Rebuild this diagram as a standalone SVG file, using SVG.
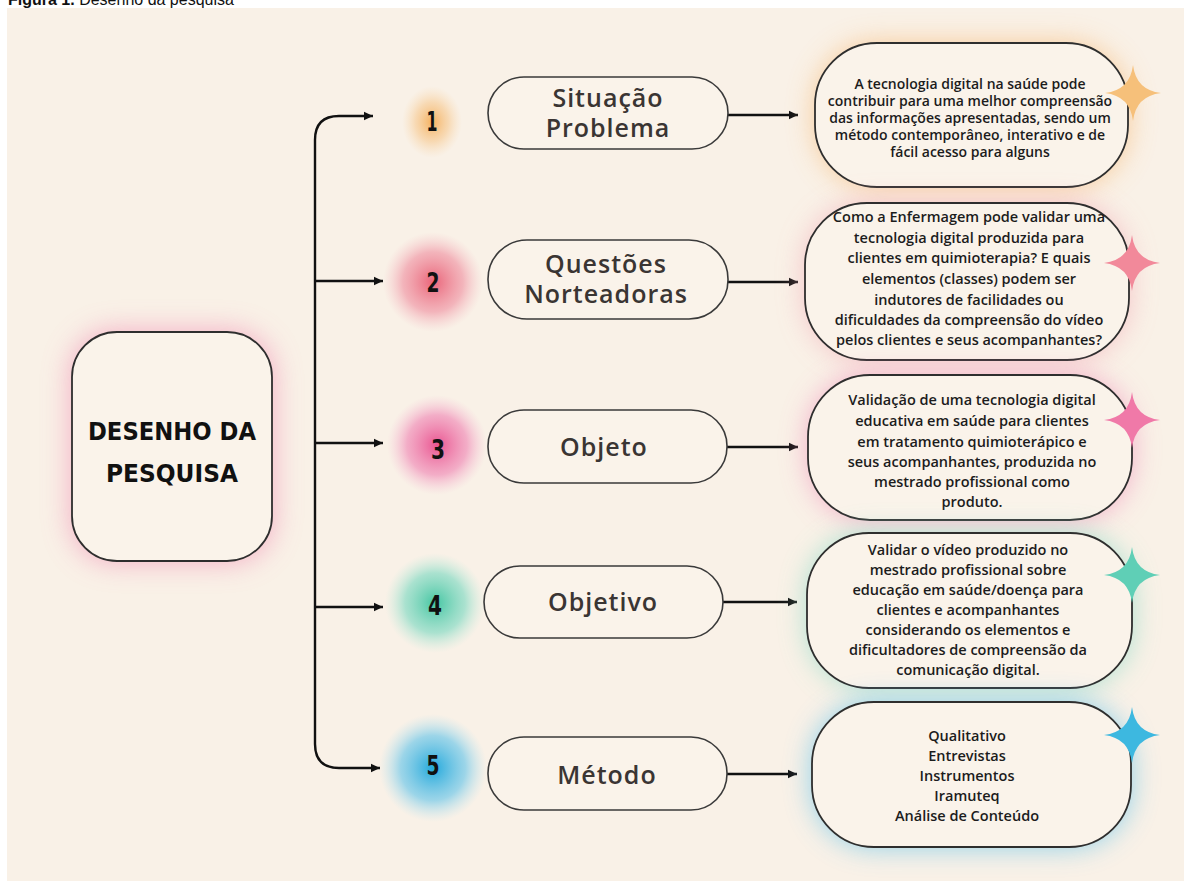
<svg xmlns="http://www.w3.org/2000/svg" xmlns:xlink="http://www.w3.org/1999/xlink" width="1184" height="881" viewBox="0 0 1184 881">
<style>
.caption{font-family:"Liberation Sans",Arial,sans-serif;font-size:16px;fill:#111}
.pill{fill:#faf3ea;stroke:#3a3a3a;stroke-width:1.6}
.box{fill:#faf3ea;stroke:#2e2e2e;stroke-width:1.8}
.ptxt{font-family:"Open Sans","DejaVu Sans",sans-serif;font-weight:600;font-size:25px;fill:#3a3533;text-anchor:middle;letter-spacing:1px}
.btxt{font-family:"Open Sans","DejaVu Sans",sans-serif;font-weight:600;font-size:14.5px;fill:#1c1c1c;text-anchor:middle}
.b1{font-size:14px}
.num{font-family:"DejaVu Sans Condensed","DejaVu Sans",sans-serif;font-weight:bold;font-size:27px;fill:#111;text-anchor:middle}
.main{font-family:"DejaVu Sans","Liberation Sans",sans-serif;font-weight:900;font-size:25px;fill:#111;text-anchor:middle}
.conn{fill:none;stroke:#111;stroke-width:2.4}
.glow{filter:url(#blur)}
</style>
<defs>
<filter id="blur" x="-50%" y="-50%" width="200%" height="200%"><feGaussianBlur stdDeviation="14"/></filter>
<marker id="arr" markerUnits="userSpaceOnUse" markerWidth="10" markerHeight="10" refX="9" refY="5" orient="auto"><path d="M0,0.8 L9,5 L0,9.2 Z" fill="#111"/></marker>
<radialGradient id="g1"><stop offset="0" stop-color="#f5aa50" stop-opacity="0.9"/><stop offset="0.55" stop-color="#f6c17f" stop-opacity="0.5"/><stop offset="1" stop-color="#f8d5a8" stop-opacity="0"/></radialGradient>
<radialGradient id="g2"><stop offset="0" stop-color="#ea6479" stop-opacity="1"/><stop offset="0.6" stop-color="#f09aa8" stop-opacity="0.7"/><stop offset="1" stop-color="#f5c1c8" stop-opacity="0"/></radialGradient>
<radialGradient id="g3"><stop offset="0" stop-color="#ea5591" stop-opacity="1"/><stop offset="0.6" stop-color="#f090b9" stop-opacity="0.7"/><stop offset="1" stop-color="#f5c0d6" stop-opacity="0"/></radialGradient>
<radialGradient id="g4"><stop offset="0" stop-color="#45c6a3" stop-opacity="1"/><stop offset="0.6" stop-color="#88dbc5" stop-opacity="0.7"/><stop offset="1" stop-color="#bfeadd" stop-opacity="0"/></radialGradient>
<radialGradient id="g5"><stop offset="0" stop-color="#23a9dc" stop-opacity="1"/><stop offset="0.6" stop-color="#74c9e9" stop-opacity="0.7"/><stop offset="1" stop-color="#b6e2f1" stop-opacity="0"/></radialGradient>
<path id="star" d="M0,-28 Q3,-3 28,0 Q3,3 0,28 Q-3,3 -28,0 Q-3,-3 0,-28 Z"/>
</defs>

<rect x="0" y="0" width="1184" height="881" fill="#ffffff"/>
<rect x="7" y="8" width="1177" height="873" fill="#f9f1e7"/>
<text class="caption" x="8" y="5"><tspan font-weight="bold">Figura 1.</tspan> Desenho da pesquisa</text>

<g id="node-main">
<rect class="glow" x="70" y="330" width="204" height="233" rx="45" fill="#f29cbb" opacity="0.75"/>
<rect class="box" x="72" y="332" width="200" height="229" rx="45"/>
<text class="main" x="172" y="440" textLength="168" lengthAdjust="spacingAndGlyphs">DESENHO DA</text>
<text class="main" x="172" y="482" textLength="132" lengthAdjust="spacingAndGlyphs">PESQUISA</text>
</g>

<g id="connectors">
<path class="conn" d="M315,140 Q315,116 339,116 H373" marker-end="url(#arr)"/>
<path class="conn" d="M315,140 V744 Q315,768 339,768 H380" marker-end="url(#arr)"/>
<path class="conn" d="M315,281 H383" marker-end="url(#arr)"/>
<path class="conn" d="M315,443 H383" marker-end="url(#arr)"/>
<path class="conn" d="M315,607 H383" marker-end="url(#arr)"/>
<path class="conn" d="M728,115 H798" marker-end="url(#arr)"/>
<path class="conn" d="M728,282 H798" marker-end="url(#arr)"/>
<path class="conn" d="M727,447 H798" marker-end="url(#arr)"/>
<path class="conn" d="M723,602 H797" marker-end="url(#arr)"/>
<path class="conn" d="M727,774 H797" marker-end="url(#arr)"/>
</g>

<g id="num-1"><ellipse cx="432" cy="122" rx="30" ry="36" fill="url(#g1)"/><text class="num" x="432" y="131" textLength="11" lengthAdjust="spacingAndGlyphs">1</text></g>
<g id="num-2"><circle cx="433" cy="282" r="50" fill="url(#g2)"/><text class="num" x="433" y="292" textLength="13" lengthAdjust="spacingAndGlyphs">2</text></g>
<g id="num-3"><circle cx="437" cy="445" r="50" fill="url(#g3)"/><text class="num" x="438" y="459" textLength="14" lengthAdjust="spacingAndGlyphs">3</text></g>
<g id="num-4"><circle cx="435" cy="603" r="50" fill="url(#g4)"/><text class="num" x="435" y="615" textLength="14" lengthAdjust="spacingAndGlyphs">4</text></g>
<g id="num-5"><circle cx="433" cy="768" r="54" fill="url(#g5)"/><text class="num" x="433" y="775" textLength="13" lengthAdjust="spacingAndGlyphs">5</text></g>

<g id="pill-1"><rect class="pill" x="488" y="77" width="240" height="72" rx="36"/><text class="ptxt" x="608"><tspan x="608" y="107">Situação</tspan><tspan x="608" y="137">Problema</tspan></text></g>
<g id="pill-2"><rect class="pill" x="488" y="240" width="240" height="79" rx="39"/><text class="ptxt" x="606"><tspan x="606" y="273">Questões</tspan><tspan x="606" y="303">Norteadoras</tspan></text></g>
<g id="pill-3"><rect class="pill" x="488" y="410" width="239" height="73" rx="36"/><text class="ptxt" x="604" y="456">Objeto</text></g>
<g id="pill-4"><rect class="pill" x="484" y="566" width="239" height="72" rx="36"/><text class="ptxt" x="603" y="611">Objetivo</text></g>
<g id="pill-5"><rect class="pill" x="488" y="737" width="239" height="73" rx="36"/><text class="ptxt" x="607" y="784">Método</text></g>

<g id="box-1">
<rect class="glow" x="815" y="43" width="313" height="144" rx="62" fill="#f7c083" opacity="0.8"/>
<rect class="box" x="815" y="43" width="313" height="144" rx="62"/>
<text class="btxt b1" x="970"><tspan x="970" y="89">A tecnologia digital na saúde pode</tspan><tspan x="970" y="106">contribuir para uma melhor compreensão</tspan><tspan x="970" y="123">das informações apresentadas, sendo um</tspan><tspan x="970" y="140">método contemporâneo, interativo e de</tspan><tspan x="970" y="157">fácil acesso para alguns</tspan></text>
<use xlink:href="#star" href="#star" x="1133" y="93" fill="#f6c07a"/>
</g>

<g id="box-2">
<rect class="glow" x="805" y="203" width="324" height="157" rx="62" fill="#f3adb8" opacity="0.7"/>
<rect class="box" x="805" y="203" width="324" height="157" rx="62"/>
<text class="btxt" x="969"><tspan x="969" y="222">Como a Enfermagem pode validar uma</tspan><tspan x="969" y="243">tecnologia digital produzida para</tspan><tspan x="969" y="263">clientes em quimioterapia? E quais</tspan><tspan x="969" y="284">elementos (classes) podem ser</tspan><tspan x="969" y="305">indutores de facilidades ou</tspan><tspan x="969" y="325">dificuldades da compreensão do vídeo</tspan><tspan x="969" y="345">pelos clientes e seus acompanhantes?</tspan></text>
<use xlink:href="#star" href="#star" x="1132" y="263" fill="#f2899a"/>
</g>

<g id="box-3">
<rect class="glow" x="808" y="375" width="324" height="145" rx="62" fill="#f197bd" opacity="0.75"/>
<rect class="box" x="808" y="375" width="324" height="145" rx="62"/>
<text class="btxt" x="972"><tspan x="972" y="405">Validação de uma tecnologia digital</tspan><tspan x="972" y="426">educativa em saúde para clientes</tspan><tspan x="972" y="447">em tratamento quimioterápico e</tspan><tspan x="972" y="467">seus acompanhantes, produzida no</tspan><tspan x="972" y="487">mestrado profissional como</tspan><tspan x="972" y="507">produto.</tspan></text>
<use xlink:href="#star" href="#star" x="1132" y="420" fill="#f079a8"/>
</g>

<g id="box-4">
<rect class="glow" x="807" y="533" width="325" height="155" rx="62" fill="#96ddca" opacity="0.8"/>
<rect class="box" x="807" y="533" width="325" height="155" rx="62"/>
<text class="btxt" x="968"><tspan x="968" y="555">Validar o vídeo produzido no</tspan><tspan x="968" y="575">mestrado profissional sobre</tspan><tspan x="968" y="595">educação em saúde/doença para</tspan><tspan x="968" y="615">clientes e acompanhantes</tspan><tspan x="968" y="635">considerando os elementos e</tspan><tspan x="968" y="655">dificultadores de compreensão da</tspan><tspan x="968" y="675">comunicação digital.</tspan></text>
<use xlink:href="#star" href="#star" x="1132" y="575" fill="#5fcfb6"/>
</g>

<g id="box-5">
<rect class="glow" x="812" y="702" width="319" height="145" rx="62" fill="#78c9ea" opacity="0.85"/>
<rect class="box" x="812" y="702" width="319" height="145" rx="62"/>
<text class="btxt" x="967"><tspan x="967" y="741">Qualitativo</tspan><tspan x="967" y="761">Entrevistas</tspan><tspan x="967" y="781">Instrumentos</tspan><tspan x="967" y="801">Iramuteq</tspan><tspan x="967" y="821">Análise de Conteúdo</tspan></text>
<use xlink:href="#star" href="#star" x="1132" y="735" fill="#3db8e0"/>
</g>
</svg>
